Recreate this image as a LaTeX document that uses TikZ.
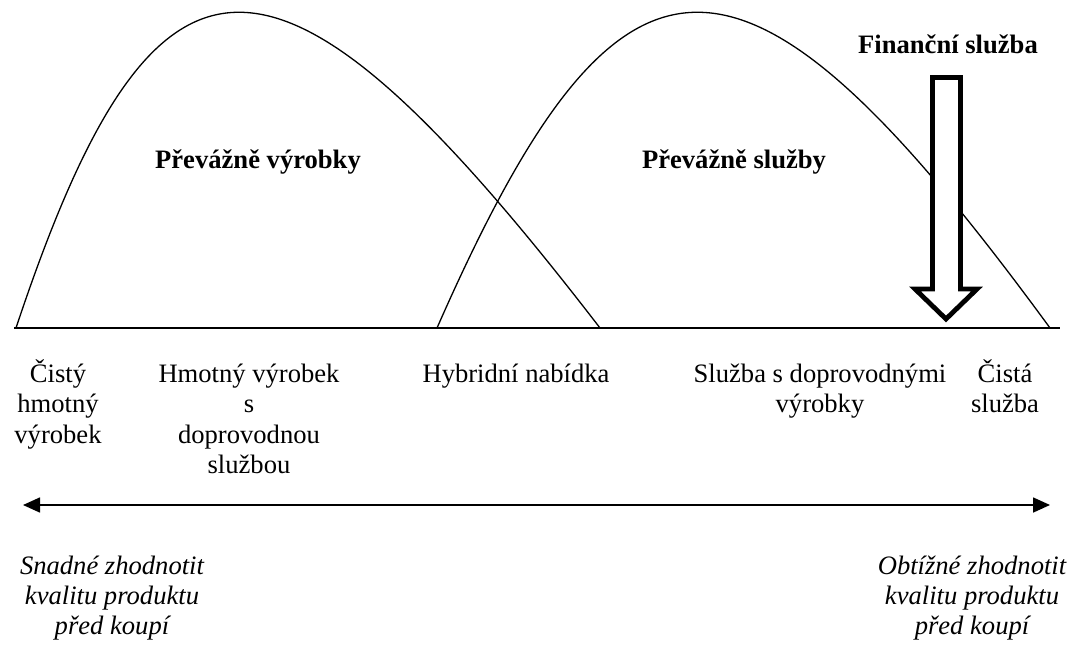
\documentclass[tikz,border=0pt]{standalone}
\usepackage{fontspec}
\setmainfont{Liberation Serif}
\usetikzlibrary{arrows.meta,positioning}

\begin{document}
\begin{tikzpicture}[
  x=0.5pt,
  y=-0.5pt,
  hump/.style={line width=0.65pt},
  axisline/.style={line width=1pt},
  scaleline/.style={{Triangle[length=8.5pt,width=7.5pt]}-{Triangle[length=8.5pt,width=7.5pt]},line width=0.8pt},
  hollowarrow/.style={line width=2.4pt,line join=miter,fill=white},
  labelstyle/.style={
    font=\fontsize{13.3}{15.25}\selectfont,
    align=center,
    anchor=base,
    inner sep=0pt
  },
  headstyle/.style={labelstyle,font=\fontsize{13.3}{15.25}\selectfont\bfseries},
  notestyle/.style={labelstyle,font=\fontsize{13.3}{14.8}\selectfont\itshape}
]
\useasboundingbox (0,0) rectangle (1069,648);

% Axis under the two humps
\coordinate (AxisL) at (14,328);
\coordinate (AxisR) at (1060,328);
\draw[axisline] (AxisL)--(AxisR);

% Feet of the humps
\coordinate (GoodsA) at (16,328);
\coordinate (GoodsB) at (600,328);
\coordinate (ServA)  at (437,328);
\coordinate (ServB)  at (1050,328);

% Humps
\draw[hump] (GoodsA) .. controls (156,-93) and (276,-93) .. (GoodsB);
\draw[hump] (ServA) .. controls (622,-93) and (742,-93) .. (ServB);

% Hollow arrow pointing at the axis
\draw[hollowarrow] (932.5,77.5) -- (960.5,77.5) -- (960.5,289) -- (977,289)
  -- (946,319) -- (915,289) -- (932.5,289) -- cycle;

% Headings
\node[headstyle] (Goods)    at (258,168) {Převážně výrobky};
\node[headstyle] (Services) at (734,168) {Převážně služby};
\node[headstyle] (Finance)  at (948,53)  {Finanční služba};

% Labels under the axis (base = last line)
\node[labelstyle] (PureGoods) at (58,443)    {Čistý\\hmotný\\výrobek};
\node[labelstyle] (GoodsPlus) at (249,473.5) {Hmotný výrobek\\s\\doprovodnou\\službou};
\node[labelstyle] (Hybrid)    at (516,382)   {Hybridní nabídka};
\node[labelstyle] (ServPlus)  at (820,412.5) {Služba s doprovodnými\\výrobky};
\node[labelstyle] (PureServ)  at (1005,412.5) {Čistá\\služba};

% Scale of evaluation
\coordinate (EasyEnd) at (23,505);
\coordinate (HardEnd) at (1050,505);
\draw[scaleline] (EasyEnd)--(HardEnd);

\node[notestyle] (Easy) at (112,634) {Snadné zhodnotit\\kvalitu produktu\\před koupí};
\node[notestyle] (Hard) at (972,634) {Obtížné zhodnotit\\kvalitu produktu\\před koupí};
\end{tikzpicture}
\end{document}
